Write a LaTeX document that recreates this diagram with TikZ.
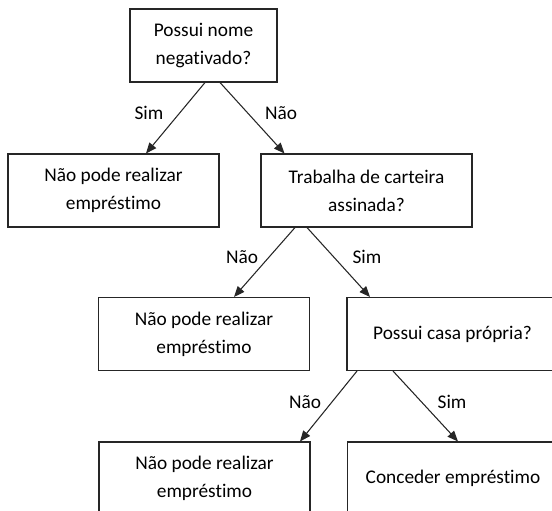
\documentclass[tikz,border=0pt]{standalone}
\usepackage{fontspec}
\setmainfont[Ligatures={NoCommon}]{Carlito}
\usetikzlibrary{arrows.meta,calc}
\begin{document}
\begin{tikzpicture}[x=0.75pt,y=-0.75pt,
  box/.style={draw=black!85, line width=0.8pt, minimum width=158.25pt, minimum height=54.75pt,
    align=center, inner sep=0pt, font=\fontsize{14.5}{21}\selectfont},
  conn/.style={draw=black!85, line width=0.8pt, -{Triangle[length=8pt,width=6.5pt]}},
  lbl/.style={font=\fontsize{14.5}{21}\selectfont, inner sep=0pt}]
\useasboundingbox (0,0) rectangle (552,510);
\clip (0,0) rectangle (552,510);
\node[box, minimum width=110.25pt] (b1) at (203.5,45.5) {Possui nome\\negativado?};
\node[box] (b2) at (113.5,190.5) {Não pode realizar\\empréstimo};
\node[box] (b3) at (366.5,190.5) {Trabalha de carteira\\assinada?};
\node[box] (b4) at (204,334) {Não pode realizar\\empréstimo};
\node[box] (b5) at (452.5,334) {Possui casa própria?};
\node[box] (b6) at (204.5,478.5) {Não pode realizar\\empréstimo};
\node[box] (b7) at (453,478.5) {Conceder empréstimo};
% connectors
\draw[conn] ($(b1.south)+(1.5,0)$) -- ($(b2.north)+(32.5,0)$);
\draw[conn] ($(b1.south)+(16.5,0)$) -- ($(b3.north)+(-82,0)$);
\draw[conn] ($(b3.south)+(-71.5,0)$) -- ($(b4.north)+(30,0)$);
\draw[conn] ($(b3.south)+(-59.5,0)$) -- ($(b5.north)+(-82.5,0)$);
\draw[conn] ($(b5.south)+(-95.5,0)$) -- ($(b6.north)+(95.5,0)$);
\draw[conn] ($(b5.south)+(-59.5,0)$) -- ($(b7.north)+(5,0)$);
% labels
\node[lbl] (l1) at (149,113) {Sim};
\node[lbl] (l2) at (281,113) {Não};
\node[lbl] (l3) at (242,257) {Não};
\node[lbl] (l4) at (367,257) {Sim};
\node[lbl] (l5) at (305,402) {Não};
\node[lbl] (l6) at (452,402) {Sim};
\end{tikzpicture}
\end{document}
